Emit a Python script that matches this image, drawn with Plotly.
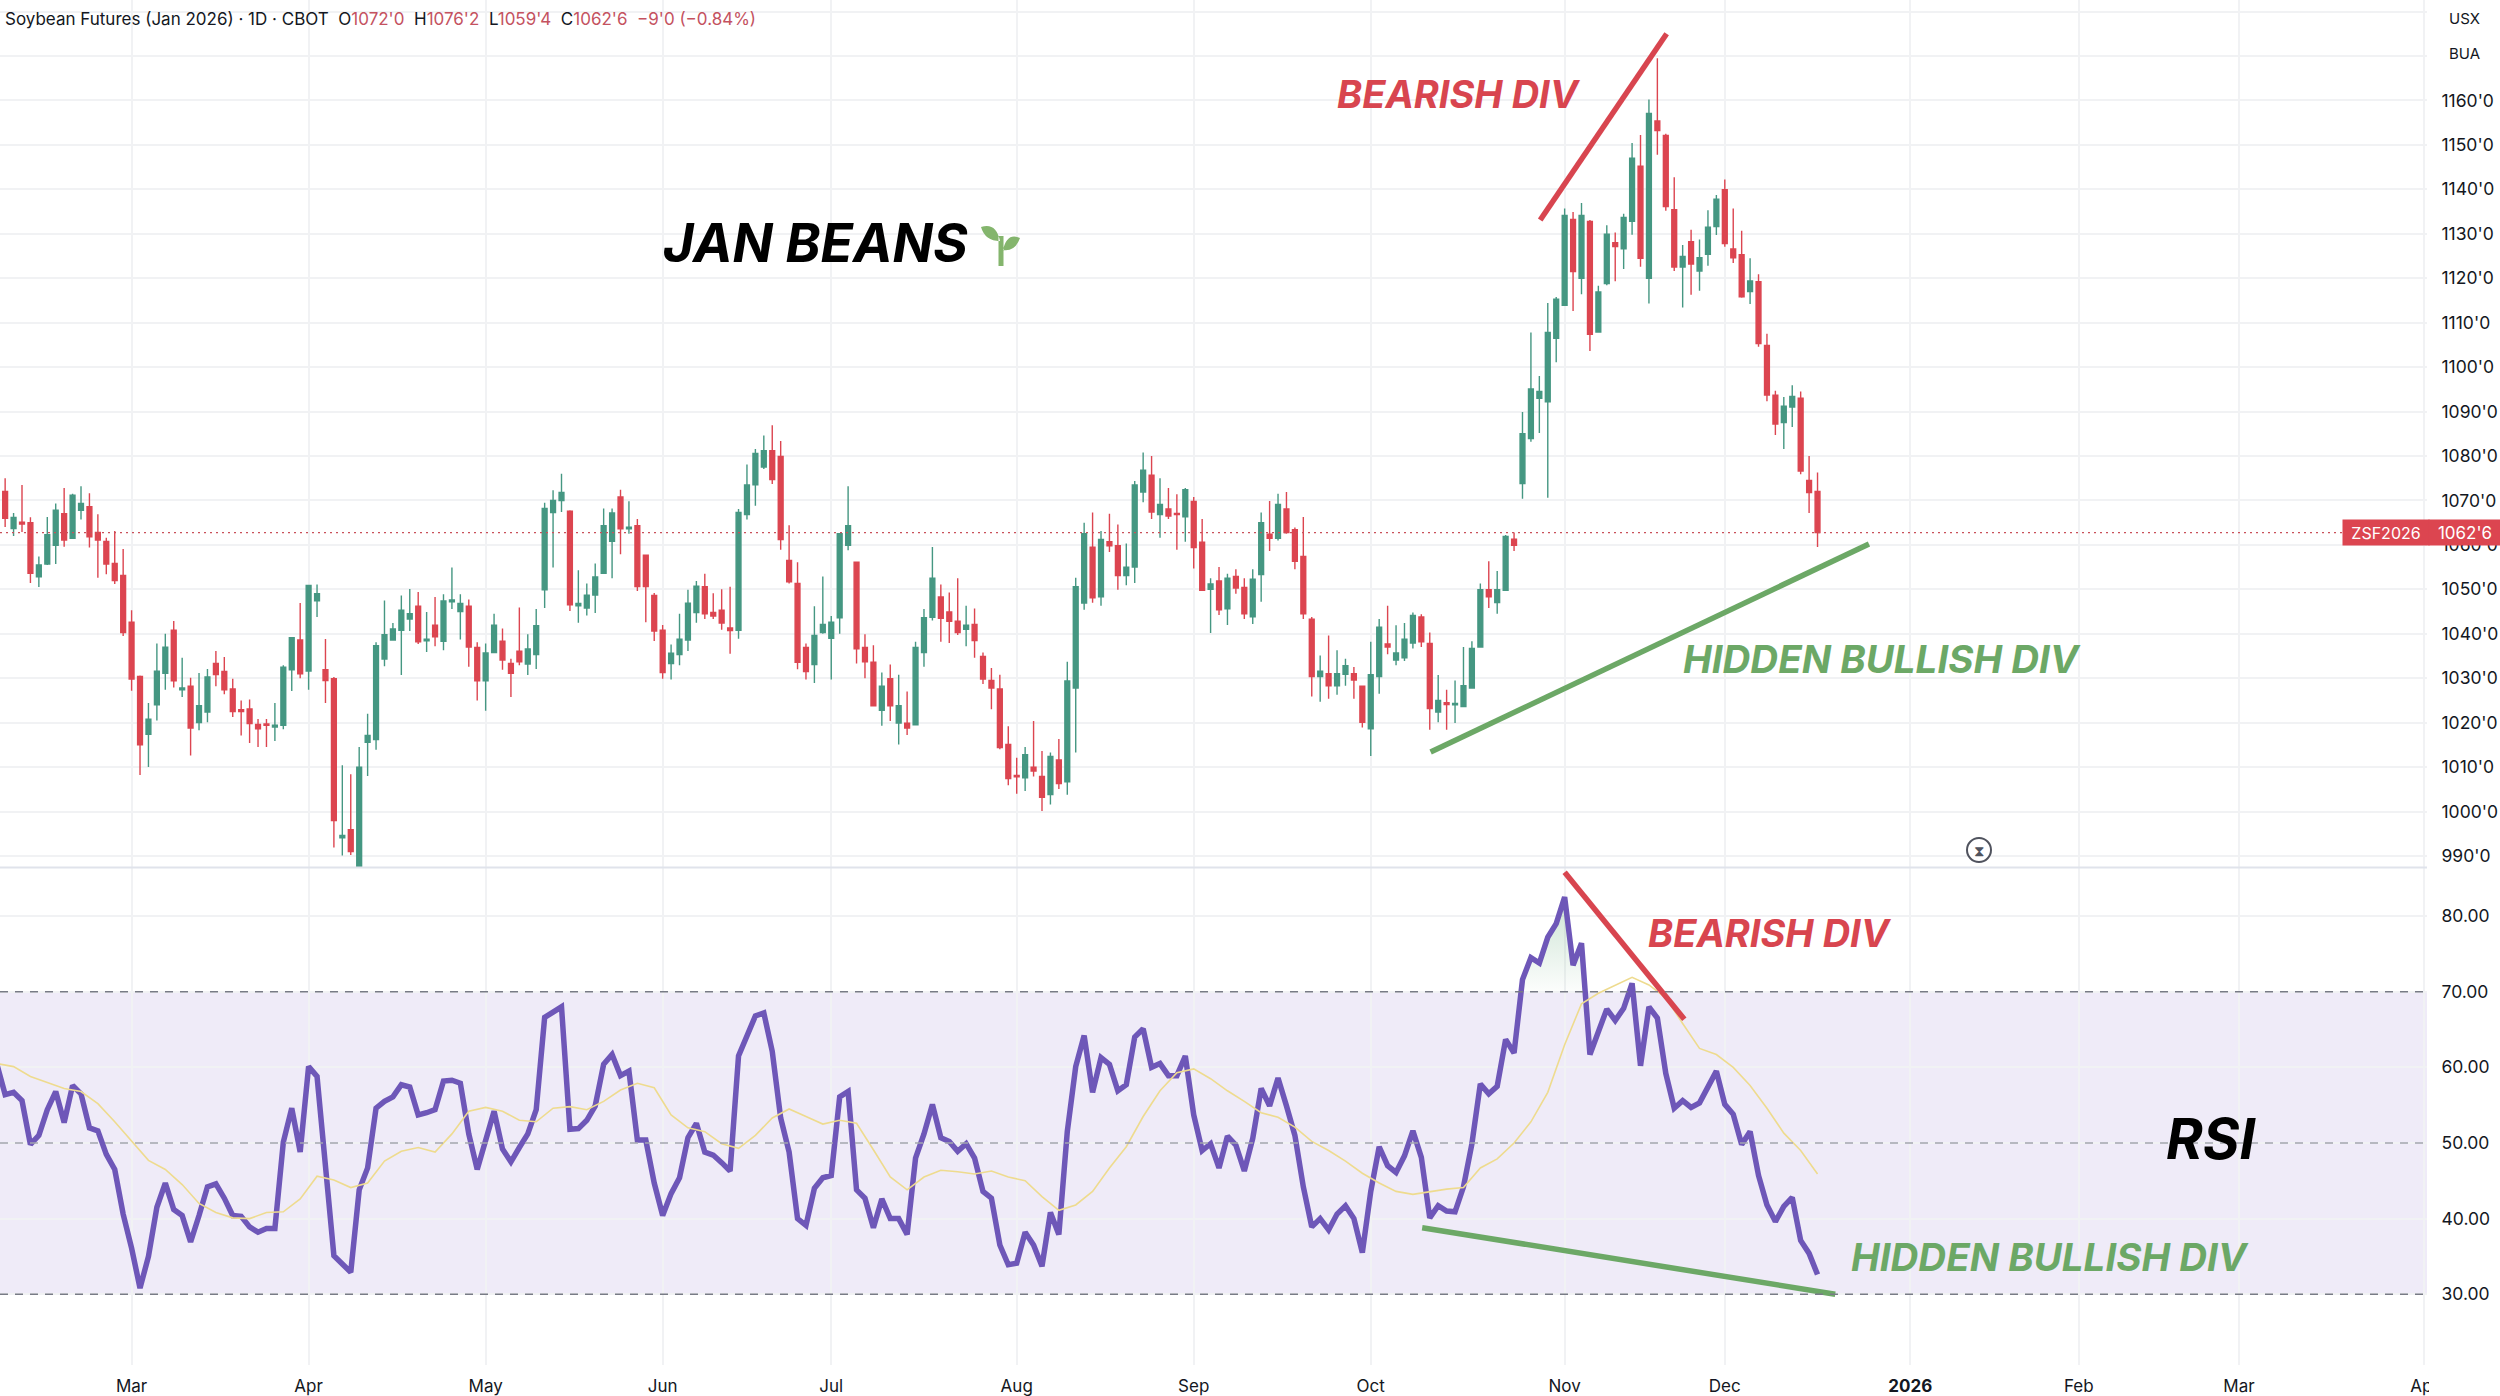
import plotly.graph_objects as go

# bar numbers: 0 is the first session of March 2025, 200 the last candle
bars = list(range(-16, 201))

opens = [
    1075.0, 1072.0, 1063.7, 1065.1, 1065.0, 1052.8, 1055.7, 1059.9, 1067.0, 1061.5, 1067.8, 1068.6,
    1062.8, 1060.8, 1055.8, 1053.1, 1042.6, 1030.4, 1017.4, 1024.0, 1031.1, 1040.8, 1027.4, 1028.2,
    1020.0, 1022.4, 1033.3, 1031.5, 1027.6, 1022.9, 1023.1, 1019.6, 1019.7, 1019.0, 1019.4, 1031.9,
    1038.6, 1031.6, 1047.4, 1031.9, 1029.9, 994.1, 995.9, 987.5, 1015.6, 1016.2, 1034.3, 1038.6,
    1040.8, 1043.3, 1046.2, 1038.4, 1041.9, 1038.3, 1047.2, 1045.0, 1046.2, 1036.9, 1029.4, 1035.8,
    1038.3, 1033.3, 1036.1, 1033.2, 1035.3, 1049.9, 1067.3, 1070.0, 1067.6, 1046.3, 1045.8, 1048.7,
    1053.6, 1060.8, 1070.8, 1063.6, 1064.3, 1057.7, 1048.6, 1040.8, 1033.3, 1035.3, 1038.6, 1044.8,
    1050.6, 1044.8, 1045.3, 1041.3, 1040.8, 1066.8, 1073.5, 1077.5, 1081.2, 1079.9, 1056.5, 1051.3,
    1036.9, 1033.1, 1040.3, 1039.0, 1043.6, 1059.9, 1056.1, 1036.9, 1033.6, 1022.8, 1029.9, 1019.9,
    1019.9, 1019.5, 1035.8, 1043.7, 1048.3, 1044.9, 1042.8, 1041.0, 1042.1, 1034.9, 1029.5, 1027.6,
    1015.1, 1008.1, 1007.6, 1010.0, 1007.9, 1003.8, 1011.6, 1006.7, 1027.8, 1046.9, 1059.5, 1048.3,
    1060.7, 1059.8, 1053.1, 1055.0, 1071.9, 1075.7, 1066.8, 1068.1, 1067.1, 1066.3, 1069.8, 1060.6,
    1050.0, 1051.9, 1045.6, 1052.9, 1050.4, 1043.8, 1053.3, 1062.4, 1061.5, 1068.1, 1063.4, 1057.4,
    1043.3, 1030.4, 1031.0, 1028.3, 1030.9, 1031.0, 1028.2, 1018.6, 1030.4, 1037.7, 1034.1, 1034.6,
    1037.9, 1043.8, 1037.8, 1022.4, 1024.5, 1024.0, 1023.6, 1027.8, 1037.0, 1049.9, 1047.0, 1049.8,
    1061.3, 1073.8, 1083.9, 1093.0, 1092.2, 1106.5, 1113.9, 1133.2, 1120.0, 1132.8, 1107.9, 1118.8,
    1128.0, 1126.6, 1132.8, 1145.2, 1120.0, 1155.4, 1152.1, 1135.4, 1122.5, 1128.2, 1121.6, 1125.4,
    1131.6, 1139.9, 1126.6, 1125.3, 1117.0, 1119.2, 1104.9, 1093.7, 1087.5, 1091.0, 1093.0, 1074.5,
    1072.0,
]
highs = [
    1076.5, 1075.0, 1067.2, 1073.5, 1066.2, 1057.4, 1066.3, 1069.3, 1072.8, 1071.5, 1073.2, 1071.6,
    1066.9, 1061.6, 1063.1, 1059.1, 1045.3, 1030.6, 1024.4, 1037.8, 1040.0, 1042.9, 1034.6, 1030.1,
    1031.2, 1032.1, 1036.1, 1034.8, 1029.9, 1025.0, 1025.2, 1020.8, 1020.8, 1024.4, 1032.9, 1039.1,
    1046.9, 1051.0, 1051.1, 1038.8, 1030.3, 1010.4, 1008.4, 1014.5, 1022.0, 1038.1, 1047.5, 1042.4,
    1048.6, 1050.1, 1049.4, 1044.9, 1048.3, 1048.9, 1054.9, 1048.9, 1047.7, 1038.1, 1037.8, 1044.5,
    1041.2, 1034.4, 1045.9, 1039.9, 1045.6, 1069.5, 1072.3, 1076.0, 1067.8, 1054.3, 1051.3, 1055.8,
    1068.2, 1068.2, 1072.4, 1069.8, 1065.8, 1057.7, 1049.2, 1042.0, 1037.6, 1044.5, 1049.9, 1051.9,
    1053.5, 1049.1, 1050.0, 1050.6, 1068.1, 1078.1, 1081.6, 1084.6, 1086.9, 1083.4, 1064.4, 1056.1,
    1037.8, 1046.2, 1052.9, 1044.0, 1062.6, 1073.2, 1056.1, 1039.9, 1037.4, 1031.3, 1033.1, 1030.8,
    1027.0, 1038.2, 1045.6, 1059.5, 1051.1, 1049.3, 1052.5, 1046.3, 1045.7, 1035.8, 1032.3, 1030.8,
    1019.2, 1012.1, 1014.5, 1020.4, 1013.6, 1013.3, 1016.3, 1033.7, 1052.6, 1065.0, 1067.3, 1063.1,
    1067.0, 1064.6, 1060.3, 1074.4, 1080.8, 1080.0, 1075.0, 1072.8, 1071.4, 1072.8, 1070.8, 1065.8,
    1052.5, 1055.0, 1053.5, 1054.5, 1052.5, 1054.5, 1067.3, 1069.9, 1071.5, 1071.9, 1063.9, 1066.3,
    1043.8, 1035.1, 1039.6, 1036.3, 1034.4, 1032.5, 1028.2, 1038.2, 1043.3, 1046.3, 1041.9, 1042.4,
    1044.8, 1044.4, 1040.3, 1030.7, 1027.4, 1029.5, 1037.0, 1038.3, 1051.3, 1056.3, 1054.1, 1062.2,
    1062.8, 1089.9, 1107.8, 1098.0, 1114.4, 1115.8, 1135.7, 1134.9, 1136.9, 1133.1, 1118.3, 1131.9,
    1130.3, 1134.5, 1150.4, 1152.2, 1160.2, 1169.5, 1152.5, 1142.7, 1127.5, 1130.9, 1128.7, 1135.3,
    1138.7, 1142.2, 1135.7, 1130.7, 1124.5, 1120.9, 1107.5, 1094.7, 1093.3, 1095.9, 1094.5, 1080.0,
    1076.3,
]
lows = [
    1067.0, 1064.0, 1062.0, 1062.9, 1051.4, 1050.5, 1055.5, 1055.7, 1059.6, 1061.3, 1065.7, 1059.4,
    1052.6, 1053.4, 1051.2, 1039.5, 1027.2, 1008.2, 1010.0, 1020.5, 1027.4, 1027.9, 1025.8, 1012.6,
    1018.3, 1020.1, 1028.2, 1026.4, 1021.3, 1017.1, 1015.4, 1014.5, 1014.5, 1015.9, 1018.5, 1027.1,
    1030.0, 1027.4, 1043.8, 1024.4, 991.9, 990.1, 990.2, 987.5, 1008.0, 1013.9, 1032.7, 1038.5,
    1030.7, 1040.6, 1037.7, 1035.9, 1037.2, 1036.3, 1045.6, 1038.7, 1032.6, 1025.0, 1022.7, 1035.8,
    1031.9, 1025.8, 1032.9, 1030.7, 1032.1, 1045.8, 1054.9, 1067.4, 1045.1, 1042.5, 1044.1, 1044.7,
    1053.5, 1052.5, 1057.9, 1062.5, 1049.6, 1042.6, 1038.4, 1029.9, 1029.7, 1032.9, 1036.1, 1042.5,
    1043.3, 1043.3, 1040.9, 1035.5, 1038.9, 1065.7, 1068.8, 1077.1, 1073.7, 1058.9, 1051.3, 1032.0,
    1029.7, 1028.9, 1040.0, 1029.7, 1040.0, 1058.8, 1033.3, 1030.0, 1023.8, 1019.3, 1020.4, 1015.1,
    1017.2, 1019.4, 1032.6, 1043.0, 1038.2, 1037.9, 1039.7, 1037.2, 1034.6, 1028.7, 1023.0, 1014.0,
    1005.9, 1004.0, 1004.6, 1007.9, 1000.1, 1001.6, 1005.1, 1003.8, 1013.3, 1045.4, 1047.0, 1046.3,
    1058.4, 1049.9, 1050.9, 1051.4, 1069.6, 1065.8, 1061.6, 1065.8, 1058.9, 1060.7, 1054.7, 1049.6,
    1040.2, 1044.2, 1042.0, 1049.0, 1043.3, 1042.2, 1047.2, 1058.6, 1061.0, 1062.5, 1054.5, 1043.3,
    1025.9, 1024.7, 1025.4, 1026.3, 1028.3, 1025.4, 1018.9, 1012.5, 1026.5, 1035.4, 1032.9, 1033.9,
    1036.7, 1037.0, 1018.4, 1020.1, 1018.4, 1019.9, 1023.5, 1027.8, 1037.0, 1045.8, 1044.5, 1049.6,
    1058.6, 1070.4, 1083.2, 1085.2, 1070.6, 1101.1, 1113.9, 1112.6, 1116.4, 1103.6, 1107.9, 1118.4,
    1119.3, 1122.1, 1129.8, 1122.6, 1114.3, 1147.8, 1135.2, 1121.6, 1113.4, 1116.3, 1117.2, 1122.8,
    1129.7, 1127.1, 1123.4, 1115.6, 1114.2, 1104.6, 1092.3, 1084.7, 1081.6, 1086.5, 1075.9, 1067.2,
    1059.5,
]
closes = [
    1069.0, 1066.0, 1066.2, 1064.7, 1053.6, 1055.5, 1062.3, 1067.8, 1061.1, 1071.2, 1069.3, 1061.8,
    1061.1, 1055.7, 1052.0, 1040.3, 1029.8, 1015.0, 1020.8, 1031.6, 1037.0, 1029.4, 1027.8, 1018.8,
    1023.8, 1030.3, 1030.8, 1027.4, 1022.5, 1022.5, 1019.8, 1018.6, 1019.4, 1019.4, 1032.5, 1039.1,
    1031.0, 1050.9, 1049.0, 1029.5, 998.0, 994.6, 991.0, 1010.0, 1017.1, 1037.3, 1039.8, 1041.1,
    1045.3, 1044.5, 1038.2, 1038.8, 1039.3, 1047.4, 1047.6, 1046.8, 1037.0, 1029.4, 1035.7, 1041.9,
    1034.1, 1031.1, 1033.7, 1036.6, 1041.8, 1068.2, 1070.0, 1071.8, 1046.5, 1046.8, 1048.7, 1052.8,
    1064.3, 1067.2, 1063.6, 1064.0, 1050.6, 1050.6, 1040.6, 1031.3, 1035.6, 1038.8, 1046.9, 1050.7,
    1044.5, 1044.0, 1042.4, 1040.7, 1067.3, 1073.5, 1080.6, 1081.2, 1074.7, 1061.2, 1051.7, 1033.6,
    1031.5, 1039.6, 1042.1, 1042.6, 1062.5, 1064.3, 1036.6, 1033.7, 1023.8, 1028.2, 1023.8, 1023.8,
    1018.8, 1036.9, 1043.6, 1052.5, 1043.5, 1042.8, 1040.3, 1041.9, 1038.5, 1029.8, 1027.8, 1014.4,
    1007.4, 1007.8, 1012.8, 1009.1, 1003.2, 1012.4, 1006.3, 1029.4, 1050.6, 1062.5, 1048.1, 1061.2,
    1059.8, 1053.1, 1055.0, 1073.5, 1076.8, 1067.4, 1069.1, 1066.5, 1066.8, 1072.4, 1059.4, 1049.8,
    1051.2, 1045.4, 1052.5, 1050.3, 1044.5, 1052.3, 1065.0, 1061.5, 1069.1, 1062.8, 1056.3, 1044.5,
    1030.4, 1031.6, 1028.3, 1031.0, 1032.8, 1029.6, 1020.1, 1030.8, 1041.5, 1037.0, 1035.7, 1038.8,
    1044.1, 1038.2, 1023.2, 1025.0, 1024.1, 1024.3, 1028.3, 1036.7, 1049.9, 1048.3, 1049.9, 1061.9,
    1059.9, 1085.0, 1095.1, 1094.5, 1107.8, 1115.3, 1134.1, 1121.5, 1134.1, 1107.4, 1116.9, 1129.9,
    1127.1, 1133.7, 1147.0, 1124.5, 1157.1, 1153.2, 1136.1, 1122.5, 1124.9, 1123.2, 1124.6, 1131.5,
    1137.8, 1127.8, 1124.6, 1115.8, 1119.4, 1105.3, 1093.7, 1087.2, 1091.2, 1093.4, 1076.6, 1071.8,
    1062.8,
]

rsi_values = [
    60.5, 56.4, 56.7, 55.6, 49.8, 51.0, 54.4, 56.8, 52.7, 57.6, 56.5, 52.0,
    51.6, 48.5, 46.5, 40.6, 36.1, 30.8, 35.0, 41.5, 44.7, 41.2, 40.4, 36.9,
    40.4, 44.2, 44.6, 42.7, 40.4, 40.3, 38.9, 38.2, 38.7, 38.7, 50.1, 54.6,
    48.8, 60.1, 58.8, 46.7, 35.1, 34.0, 32.9, 43.8, 46.7, 54.6, 55.5, 56.1,
    57.7, 57.4, 53.7, 54.0, 54.4, 58.2, 58.3, 57.9, 51.2, 46.5, 50.6, 54.2,
    49.2, 47.5, 49.4, 51.2, 54.4, 66.6, 67.3, 68.0, 51.8, 51.9, 53.0, 54.9,
    60.4, 61.7, 58.9, 59.5, 50.4, 50.4, 44.7, 40.4, 43.3, 45.4, 50.7, 52.6,
    48.8, 48.4, 47.4, 46.3, 61.5, 64.1, 66.8, 67.2, 62.1, 53.3, 48.8, 40.0,
    39.1, 44.0, 45.4, 45.7, 56.1, 56.8, 43.8, 42.7, 38.8, 42.6, 40.0, 40.0,
    37.9, 48.0, 51.2, 55.1, 50.7, 50.2, 48.9, 49.9, 48.0, 43.6, 42.7, 36.5,
    33.9, 34.1, 38.2, 36.5, 33.7, 40.8, 37.9, 51.5, 60.1, 64.2, 56.7, 61.3,
    60.4, 56.9, 57.7, 64.0, 65.1, 60.0, 60.5, 58.9, 58.9, 61.5, 53.7, 49.0,
    49.9, 46.7, 50.9, 49.7, 46.3, 50.6, 57.2, 54.9, 58.6, 54.9, 51.0, 44.2,
    38.9, 40.0, 38.5, 40.6, 41.7, 40.0, 35.5, 43.6, 49.5, 47.0, 46.1, 48.3,
    51.6, 48.1, 40.1, 41.7, 41.0, 40.9, 44.2, 49.9, 57.8, 56.5, 57.5, 63.7,
    61.9, 71.6, 74.5, 73.8, 77.2, 79.0, 82.5, 73.5, 76.4, 61.7, 64.5, 67.7,
    66.2, 67.8, 71.1, 60.2, 68.0, 66.5, 59.2, 54.6, 55.6, 54.7, 55.3, 57.4,
    59.5, 55.1, 53.8, 49.8, 51.5, 45.7, 41.8, 39.6, 41.6, 42.8, 37.1, 35.4,
    32.6,
]

# RSI moving average, read every second bar
ma_bars = list(range(-16, 201, 2))
ma_values = [
    60.5, 60.1, 58.8, 58.0, 57.2, 56.8, 55.2, 52.8, 50.3, 47.7, 46.5, 44.5,
    42.0, 40.8, 40.1, 40.0, 40.8, 40.9, 42.6, 45.6, 45.1, 44.1, 44.7, 47.6,
    48.9, 49.4, 48.8, 51.2, 54.2, 54.7, 54.2, 53.0, 52.8, 54.6, 54.8, 54.4,
    55.5, 57.0, 57.9, 57.3, 53.7, 52.0, 51.5, 49.9, 49.3, 51.0, 53.3, 54.5,
    53.5, 52.5, 53.0, 52.6, 49.1, 45.5, 43.8, 45.5, 46.4, 46.2, 45.9, 46.3,
    45.5, 45.0, 42.9, 41.1, 41.8, 43.6, 46.7, 49.5, 53.5, 56.9, 59.3, 59.8,
    58.5, 56.9, 55.5, 54.0, 53.4, 52.1, 50.2, 49.0, 47.6, 46.0, 44.7, 43.6,
    43.2, 43.6, 43.9, 44.1, 46.7, 47.9, 50.0, 52.8, 56.7, 63.0, 68.4, 69.8,
    70.9, 71.9, 70.9, 69.2, 65.8, 62.5, 61.7, 60.0, 57.6, 54.6, 51.3, 49.0,
    45.9,
]

month_bars = [0, 21, 42, 63, 83, 105, 126, 147, 170, 189, 211, 231, 250, 272]
month_labels = ["Mar", "Apr", "May", "Jun", "Jul", "Aug", "Sep", "Oct", "Nov", "Dec",
                "<b>2026</b>", "Feb", "Mar", "Apr"]

price_ticks = list(range(990, 1190, 10))
price_labels = [f"{p}'0" if p <= 1160 else "" for p in price_ticks]
rsi_ticks = [30, 40, 50, 60, 70, 80]
rsi_labels = ["30.00", "40.00", "50.00", "60.00", "70.00", "80.00"]

last_price = 1062.75

# hand drawn divergence lines, (bar, value) at each end
price_bear_bars, price_bear_vals = [167.1, 182.1], [1133.1, 1175.0]
price_bull_bars, price_bull_vals = [154.1, 206.1], [1013.4, 1060.2]
rsi_bear_bars, rsi_bear_vals = [170.0, 184.2], [85.8, 66.35]
rsi_bull_bars, rsi_bull_vals = [153.1, 202.1], [38.8, 30.0]

UP = "#459782"
DOWN = "#dc4550"
RED_INK = "#d8454f"
GREEN_INK = "#6ca866"
GRID = "#f1f2f4"
FONT = "Inter"
PLOT_W = 2427
PLOT_H = 1365


def xp(px):
    return px / PLOT_W


def yp(px):
    return (PLOT_H - px) / PLOT_H


fig = go.Figure()
fig.add_trace(go.Candlestick(
    x=bars, open=opens, high=highs, low=lows, close=closes,
    xaxis="x", yaxis="y", whiskerwidth=0,
    increasing=dict(line=dict(color=UP, width=1.4), fillcolor=UP),
    decreasing=dict(line=dict(color=DOWN, width=1.4), fillcolor=DOWN),
))

# green wash where RSI sits above 70
fill_x, fill_y = [], []
for a, b, ra, rb in zip(bars, bars[1:], rsi_values, rsi_values[1:]):
    if ra > 70:
        fill_x.append(a)
        fill_y.append(ra)
    if (ra > 70) != (rb > 70):
        fill_x.append(a + (70 - ra) / (rb - ra))
        fill_y.append(70)
fig.add_trace(go.Scatter(
    x=fill_x + fill_x[:1], y=fill_y + fill_y[:1], xaxis="x2", yaxis="y2", mode="none", fill="toself",
    fillgradient=dict(type="vertical", colorscale=[[0, "rgba(100,170,120,0.02)"], [1, "rgba(100,170,120,0.32)"]]),
))
fig.add_trace(go.Scatter(x=bars, y=rsi_values, xaxis="x2", yaxis="y2", mode="lines",
                         line=dict(color="#6e57b8", width=5.5)))
fig.add_trace(go.Scatter(x=ma_bars, y=ma_values, xaxis="x2", yaxis="y2", mode="lines",
                         line=dict(color="#eedb8e", width=1.6)))

for xs, ys, ax, ay, col in [
    (price_bear_bars, price_bear_vals, "x", "y", RED_INK),
    (price_bull_bars, price_bull_vals, "x", "y", GREEN_INK),
    (rsi_bear_bars, rsi_bear_vals, "x2", "y2", RED_INK),
    (rsi_bull_bars, rsi_bull_vals, "x2", "y2", GREEN_INK),
]:
    fig.add_trace(go.Scatter(x=xs, y=ys, xaxis=ax, yaxis=ay, mode="lines", line=dict(color=col, width=5.5)))

shapes = [
    dict(type="rect", xref="paper", yref="y2", x0=0, x1=1, y0=30, y1=70, layer="below",
         fillcolor="rgba(126,87,194,0.12)", line_width=0),
    dict(type="line", xref="paper", yref="y2", x0=0, x1=1, y0=70, y1=70,
         line=dict(color="#787b86", width=1.5, dash="8px,7px")),
    dict(type="line", xref="paper", yref="y2", x0=0, x1=1, y0=50, y1=50,
         line=dict(color="#a3a5ae", width=1.5, dash="8px,7px")),
    dict(type="line", xref="paper", yref="y2", x0=0, x1=1, y0=30, y1=30,
         line=dict(color="#787b86", width=1.5, dash="8px,7px")),
    dict(type="line", xref="paper", yref="y", x0=0, x1=xp(2344), y0=last_price, y1=last_price,
         line=dict(color="#c9505a", width=1.3, dash="2px,4px")),
    dict(type="line", xref="paper", yref="paper", x0=0, x1=1, y0=yp(867.5), y1=yp(867.5),
         line=dict(color="#e0e3eb", width=2)),
    # covers the end of the clipped Apr label
    dict(type="rect", xref="paper", yref="paper", x0=xp(2429), x1=xp(2500), y0=yp(1366), y1=yp(1396),
         fillcolor="white", line_width=0, layer="above"),
    # pending-session badge
    dict(type="circle", xref="paper", yref="paper", x0=xp(1967), x1=xp(1991), y0=yp(838), y1=yp(862),
         fillcolor="white", line=dict(color="#50535e", width=2)),
    # sprout next to the title
    dict(type="path", xref="paper", yref="paper", fillcolor="#84b56d", line_width=0,
         path=f"M {xp(981)} {yp(227)} Q {xp(996)} {yp(222)} {xp(1000)} {yp(241)} Q {xp(985)} {yp(241)} {xp(981)} {yp(227)} Z "
              f"M {xp(1020)} {yp(238)} Q {xp(1007)} {yp(232)} {xp(1003)} {yp(250)} Q {xp(1015)} {yp(252)} {xp(1020)} {yp(238)} Z "
              f"M {xp(998.5)} {yp(236)} L {xp(1003.5)} {yp(236)} L {xp(1003.5)} {yp(266)} L {xp(998.5)} {yp(266)} Z"),
]


def note(text, x, y, size, color, anchor="left"):
    return dict(text=text, xref="paper", yref="paper", x=xp(x), y=yp(y), xanchor=anchor, yanchor="middle",
                showarrow=False, font=dict(family=FONT, size=size, color=color))


def big(text):
    return f"<b><i>{text}</i></b>"


NB = "\u00a0"
head_red = "#c4525f"


def num(t):
    return f'<span style="color:{head_red}">{t}</span>'


header = (f"Soybean Futures (Jan 2026) · 1D · CBOT{NB}{NB}O" + num("1072'0") + f"{NB}{NB}H" + num("1076'2")
          + f"{NB}{NB}L" + num("1059'4") + f"{NB}{NB}C" + num("1062'6") + f"{NB}{NB}" + num("−9'0 (−0.84%)"))

annotations = [
    note(header, 3, 19, 17, "#131722"),
    note(big("JAN BEANS"), 661, 243, 53, "#000000"),
    note(big("BEARISH DIV"), 1335, 94, 38, RED_INK),
    note(big("HIDDEN BULLISH DIV"), 1681, 659, 38.5, GREEN_INK),
    note(big("BEARISH DIV"), 1646, 933, 38, RED_INK),
    note(big("HIDDEN BULLISH DIV"), 1849, 1257, 38.5, GREEN_INK),
    note(big("RSI"), 2164, 1139, 56, "#000000"),
    note("USX", 2447, 19, 15, "#131722"),
    note("BUA", 2447, 54, 15, "#131722"),
    note("⧗", 1979, 850, 15, "#50535e", "center"),
    dict(text="ZSF2026", xref="paper", yref="y", x=xp(2386), y=last_price, xanchor="center", width=84, height=23,
         bgcolor=DOWN, showarrow=False, font=dict(family=FONT, size=16, color="white")),
    dict(text="1062'6", xref="paper", yref="y", x=xp(2465), y=last_price, xanchor="center", width=70, height=23,
         bgcolor=DOWN, showarrow=False, font=dict(family=FONT, size=17, color="white")),
]

x_common = dict(range=[-15.61, 272.3], tickmode="array", tickvals=month_bars, showgrid=True, gridcolor=GRID,
                gridwidth=1.5, zeroline=False, showline=False, automargin=False, rangeslider=dict(visible=False))
y_common = dict(tickmode="array", side="right", showgrid=True, gridcolor=GRID, gridwidth=1.5, zeroline=False,
                showline=False, automargin=False, ticks="outside", ticklen=10, tickcolor="rgba(0,0,0,0)",
                tickfont=dict(family=FONT, size=17.5, color="#131722"))

fig.update_layout(
    width=2500,
    height=1396,
    margin=dict(l=0, r=73, t=0, b=31),
    paper_bgcolor="white",
    plot_bgcolor="white",
    showlegend=False,
    boxgap=0.18,
    xaxis=dict(x_common, anchor="y", ticktext=month_labels, showticklabels=False),
    xaxis2=dict(x_common, anchor="y2", matches="x", ticktext=month_labels, ticks="outside", ticklen=6,
                tickcolor="rgba(0,0,0,0)", tickfont=dict(family=FONT, size=17, color="#131722")),
    yaxis=dict(y_common, domain=[0.3646, 1], range=[987.45, 1182.6], tickvals=price_ticks, ticktext=price_labels),
    yaxis2=dict(y_common, domain=[0, 0.3641], range=[20.64, 86.36], tickvals=rsi_ticks, ticktext=rsi_labels),
    shapes=shapes,
    annotations=annotations,
)

# the browser's default body margin would shift everything by 8px
fig.write_html("out.html", config={"displayModeBar": False},
               post_script="document.body.style.margin='0'; document.documentElement.style.overflow='hidden';")
